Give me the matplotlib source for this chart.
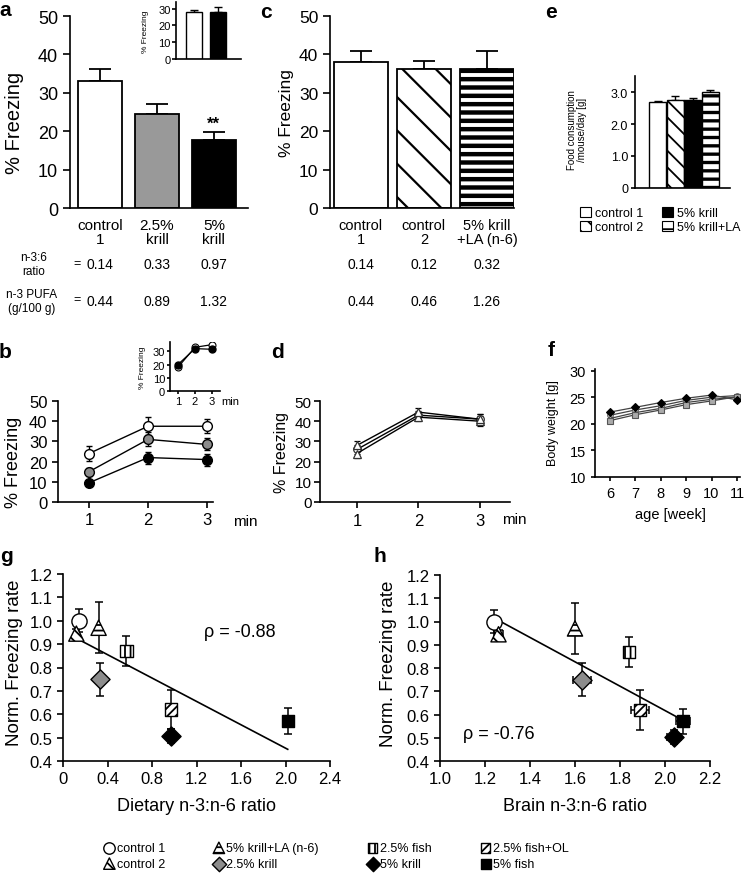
import numpy as np
import matplotlib.pyplot as plt
from matplotlib.patches import Patch
from matplotlib.transforms import blended_transform_factory

plt.rcParams['font.family'] = ['Liberation Sans', 'DejaVu Sans']
plt.rcParams['axes.linewidth'] = 1.2
plt.rcParams['hatch.linewidth'] = 1.3
plt.rcParams['xtick.major.width'] = 1.2
plt.rcParams['ytick.major.width'] = 1.2
plt.rcParams['xtick.direction'] = 'out'
plt.rcParams['ytick.direction'] = 'out'

# ---- data ----
# a: fear conditioning, krill diets
a_groups = ['control\n1', '2.5%\nkrill', '5%\nkrill']
a_mean = [33.0, 24.6, 17.6]
a_sem = [3.3, 2.4, 2.1]
a_ratio = ['0.14', '0.33', '0.97']
a_pufa = ['0.44', '0.89', '1.32']
a_inset_mean = [28.3, 28.3]
a_inset_sem = [1.2, 2.6]

# c: control diets
c_groups = ['control\n1', 'control\n2', '5% krill\n+LA (n-6)']
c_mean = [38.0, 36.3, 36.3]
c_sem = [3.0, 2.0, 4.6]
c_ratio = ['0.14', '0.12', '0.32']
c_pufa = ['0.44', '0.46', '1.26']

# e: food consumption
e_groups = ['control 1', 'control 2', '5% krill', '5% krill+LA']
e_mean = [2.70, 2.75, 2.75, 3.00]
e_sem = [0.03, 0.12, 0.06, 0.06]

# b: freezing per minute
minutes = [1, 2, 3]
b_ctrl1 = [24.0, 37.5, 37.5]
b_ctrl1_sem = [3.5, 4.5, 3.5]
b_krill25 = [15.0, 31.0, 28.5]
b_krill25_sem = [2.0, 3.5, 3.0]
b_krill5 = [9.5, 22.0, 21.0]
b_krill5_sem = [1.5, 3.0, 3.0]
b_inset_open = [18.0, 33.0, 35.0]
b_inset_black = [20.0, 32.0, 31.5]

# d: freezing per minute, control diets
d_ctrl1 = [26.0, 43.0, 41.0]
d_ctrl2 = [24.0, 42.0, 40.0]
d_krillLA = [28.0, 44.5, 41.0]
d_sem = [2.0, 2.0, 2.5]

# f: body weight
weeks = [6, 7, 8, 9, 10, 11]
f_krill5 = [22.2, 23.1, 24.0, 24.8, 25.4, 24.5]
f_ctrl1 = [21.6, 22.6, 23.4, 24.4, 25.0, 25.3]
f_ctrl2 = [21.0, 22.1, 22.9, 24.0, 24.6, 25.0]
f_krillLA = [20.6, 21.7, 22.6, 23.6, 24.3, 25.1]

# g/h: normalized freezing vs n-3:n-6 ratio
groups = ['control 1', 'control 2', '5% krill+LA (n-6)', '2.5% krill',
          '2.5% fish', '5% krill', '2.5% fish+OL', '5% fish']
norm_freeze = [1.00, 0.945, 0.97, 0.75, 0.87, 0.505, 0.62, 0.57]
norm_sem = [0.05, 0.02, 0.11, 0.07, 0.065, 0.03, 0.085, 0.055]
diet_ratio = [0.14, 0.12, 0.32, 0.33, 0.57, 0.97, 0.97, 2.02]
brain_ratio = [1.24, 1.26, 1.60, 1.63, 1.84, 2.04, 1.89, 2.08]
brain_sem = [0.0, 0.02, 0.0, 0.04, 0.0, 0.03, 0.04, 0.03]
g_fit = (-0.25, 0.955)   # slope, intercept
g_fit_range = [0.10, 2.02]
h_fit = (-0.524, 1.665)
h_fit_range = [1.25, 2.07]

# ---- styles ----
sty = {
    'control 1': dict(marker='o', c='white', hatch=None),
    'control 2': dict(marker='^', c='white', hatch='\\\\\\'),
    '5% krill+LA (n-6)': dict(marker='^', c='white', hatch='---'),
    '2.5% krill': dict(marker='D', c='#8c8c8c', hatch=None),
    '2.5% fish': dict(marker='s', c='white', hatch='|||'),
    '5% krill': dict(marker='D', c='black', hatch=None),
    '2.5% fish+OL': dict(marker='s', c='white', hatch='////'),
    '5% fish': dict(marker='s', c='black', hatch=None),
}

W, H = 746, 878
fig = plt.figure(figsize=(W / 100, H / 100), dpi=100)


def add_ax(l, t, r, b):
    ax = fig.add_axes([l / W, 1 - b / H, (r - l) / W, (b - t) / H])
    ax.spines['top'].set_visible(False)
    ax.spines['right'].set_visible(False)
    ax.patch.set_alpha(0)
    return ax


def fy(y):
    return 1 - y / H


def panel(letter, x, y):
    fig.text(x / W, fy(y), letter, fontsize=15, fontweight='bold', ha='center', va='center')


def hatched_bar(ax, x, h, w, fc, hatch, lw, hlw):
    bar = ax.bar(x, h, width=w, color=fc, edgecolor='black', hatch=hatch, linewidth=lw, zorder=2)
    for p in bar:
        if hasattr(p, 'set_hatch_linewidth'):
            p.set_hatch_linewidth(hlw)
    return bar


# ---- panel a ----
ax = add_ax(70, 17, 248, 209)
xa = np.arange(3)
ax.bar(xa, a_mean, width=0.78, color=['white', '#999999', 'black'], edgecolor='black', linewidth=1.3, zorder=2)
ax.errorbar(xa, a_mean, yerr=[np.zeros(3), a_sem], fmt='none', ecolor='black', elinewidth=1.3,
            capsize=8, capthick=1.3, zorder=1)
ax.text(2, a_mean[2] + a_sem[2] + 0.3, '**', ha='center', va='bottom', fontsize=12, fontweight='bold')
ax.set_xlim(-0.53, 2.6)
ax.set_ylim(0, 50)
ax.set_yticks(range(0, 51, 10))
ax.set_xticks(xa)
ax.set_xticklabels(a_groups, fontsize=11, linespacing=1.0)
ax.tick_params(axis='x', length=0, pad=7)
ax.tick_params(axis='y', labelsize=13, length=5)
ax.set_ylabel('% Freezing', fontsize=14.5, va='center')
ax.yaxis.set_label_coords(-0.31, 0.45)
tr = blended_transform_factory(ax.transData, fig.transFigure)
for i in range(3):
    ax.text(xa[i], fy(265), a_ratio[i], transform=tr, ha='center', va='center', fontsize=10)
    ax.text(xa[i], fy(302), a_pufa[i], transform=tr, ha='center', va='center', fontsize=10)
fig.text(34 / W, fy(265), 'n-3:6\nratio', ha='center', va='center', fontsize=8.5, linespacing=1.15)
fig.text(32 / W, fy(302), 'n-3 PUFA\n(g/100 g)', ha='center', va='center', fontsize=8.5, linespacing=1.15)
fig.text(77 / W, fy(264), '=', ha='center', va='center', fontsize=9)
fig.text(77 / W, fy(300), '=', ha='center', va='center', fontsize=9)
panel('a', 5, 11)

# inset a
ax = add_ax(176, 3, 241, 60)
ax.bar([0, 1], a_inset_mean, width=0.68, color=['white', 'black'], edgecolor='black', linewidth=1.0, zorder=2)
ax.errorbar([0, 1], a_inset_mean, yerr=[[0, 0], a_inset_sem], fmt='none', ecolor='black',
            elinewidth=1.0, capsize=3, capthick=1.0, zorder=1)
ax.set_xlim(-0.77, 2.0)
ax.set_ylim(0, 34)
ax.set_yticks([0, 10, 20, 30])
ax.set_xticks([])
ax.tick_params(axis='y', labelsize=8, length=3, pad=1)
ax.set_ylabel('% Freezing', fontsize=6, va='center')
ax.yaxis.set_label_coords(-0.47, 0.5)

# ---- panel c ----
ax = add_ax(330, 17, 514, 209)
xc = np.arange(3)
hatches_c = [None, '\\', '--']
hlw_c = [1.3, 1.6, 3.2]
for i in range(3):
    hatched_bar(ax, xc[i], c_mean[i], 0.86, 'white', hatches_c[i], 1.3, hlw_c[i])
ax.errorbar(xc, c_mean, yerr=[np.zeros(3), c_sem], fmt='none', ecolor='black', elinewidth=1.3,
            capsize=8, capthick=1.3, zorder=1)
ax.set_xlim(-0.49, 2.43)
ax.set_ylim(0, 50)
ax.set_yticks(range(0, 51, 10))
ax.set_xticks(xc)
ax.set_xticklabels(c_groups, fontsize=10.5, linespacing=1.0)
ax.tick_params(axis='x', length=0, pad=7)
ax.tick_params(axis='y', labelsize=12.5, length=5)
ax.set_ylabel('% Freezing', fontsize=12.5, va='center')
ax.yaxis.set_label_coords(-0.234, 0.5)
tr = blended_transform_factory(ax.transData, fig.transFigure)
for i in range(3):
    ax.text(xc[i], fy(265), c_ratio[i], transform=tr, ha='center', va='center', fontsize=10)
    ax.text(xc[i], fy(302), c_pufa[i], transform=tr, ha='center', va='center', fontsize=10)
panel('c', 266, 13)

# ---- panel e ----
ax = add_ax(635, 77, 730, 189)
xe = np.arange(4)
e_colors = ['white', 'white', 'black', 'white']
e_hatch = [None, '\\\\', None, '--']
e_hlw = [1.0, 1.3, 1.0, 2.4]
for i in range(4):
    hatched_bar(ax, xe[i], e_mean[i], 0.97, e_colors[i], e_hatch[i], 1.0, e_hlw[i])
ax.errorbar(xe, e_mean, yerr=[np.zeros(4), e_sem], fmt='none', ecolor='black', elinewidth=1.0,
            capsize=3, capthick=1.0, zorder=1)
ax.set_xlim(-1.29, 4.11)
ax.set_ylim(0, 3.5)
ax.set_yticks([0, 1, 2, 3])
ax.set_yticklabels(['0', '1.0', '2.0', '3.0'])
ax.set_xticks([])
ax.tick_params(axis='y', labelsize=9, length=3, pad=2)
ax.set_ylabel('Food consumption\n/mouse/day [g]', fontsize=7, linespacing=1.1, va='center')
ax.yaxis.set_label_coords(-0.61, 0.53)
e_handles = [Patch(facecolor=e_colors[i], edgecolor='black', hatch=e_hatch[i], linewidth=0.8)
             for i in range(4)]
fig.legend(e_handles, e_groups, ncol=2, loc='center', bbox_to_anchor=(660 / W, fy(221)),
           frameon=False, fontsize=9, handlelength=0.9, handleheight=0.9, handletextpad=0.3,
           columnspacing=1.5, labelspacing=0.15, borderpad=0)
panel('e', 551, 12)

# ---- panel b ----
ax = add_ax(58, 402, 213, 503)
for vals, err, fc in [(b_ctrl1, b_ctrl1_sem, 'white'), (b_krill25, b_krill25_sem, '#8c8c8c'),
                      (b_krill5, b_krill5_sem, 'black')]:
    ax.errorbar(minutes, vals, yerr=err, color='black', lw=1.0, elinewidth=1.0, capsize=2.5,
                marker='o', ms=7, mfc=fc, mec='black', mew=1.0)
ax.set_xlim(0.475, 3.1)
ax.set_ylim(0, 50)
ax.set_xticks(minutes)
ax.set_yticks(range(0, 51, 10))
ax.tick_params(labelsize=12, length=4)
ax.set_ylabel('% Freezing', fontsize=13, va='center')
ax.yaxis.set_label_coords(-0.29, 0.40)
fig.text(245 / W, fy(522), 'min', ha='center', va='center', fontsize=11)
panel('b', 5, 352)

# inset b
ax = add_ax(170, 343, 220, 392)
ax.plot(minutes, b_inset_open, color='black', lw=0.9, marker='o', ms=5, mfc='white', mec='black', mew=0.8)
ax.plot(minutes, b_inset_black, color='black', lw=0.9, marker='o', ms=5, mfc='black', mec='black')
ax.set_xlim(0.53, 3.47)
ax.set_ylim(0, 37)
ax.set_xticks(minutes)
ax.set_yticks([0, 10, 20, 30])
ax.tick_params(labelsize=8, length=2.5, pad=1)
ax.set_ylabel('% Freezing', fontsize=6, va='center')
ax.yaxis.set_label_coords(-0.55, 0.5)
fig.text(230 / W, fy(402), 'min', ha='center', va='center', fontsize=8)

# ---- panel d ----
ax = add_ax(320, 402, 510, 503)
for vals, mk in [(d_ctrl1, 'o'), (d_ctrl2, '^'), (d_krillLA, '^')]:
    ax.errorbar(minutes, vals, yerr=d_sem, color='black', lw=1.0, elinewidth=0.9, capsize=2,
                marker=mk, ms=5.5, mfc='white', mec='#333333', mew=0.9)
ax.set_xlim(0.4, 3.49)
ax.set_ylim(0, 50)
ax.set_xticks(minutes)
ax.set_yticks(range(0, 51, 10))
ax.tick_params(labelsize=11, length=4, pad=2)
ax.tick_params(axis='x', labelsize=12, pad=4)
ax.set_ylabel('% Freezing', fontsize=11.5, va='center')
ax.yaxis.set_label_coords(-0.205, 0.5)
fig.text(514 / W, fy(520), 'min', ha='center', va='center', fontsize=11)
panel('d', 278, 353)

# ---- panel f ----
ax = add_ax(595, 370, 740, 478)
for vals, mk, fc, ec in [(f_ctrl1, 'o', 'white', '#555555'), (f_ctrl2, '^', '#cccccc', '#555555'),
                         (f_krillLA, 's', '#aaaaaa', '#555555'), (f_krill5, 'D', 'black', 'black')]:
    ax.plot(weeks, vals, color='#444444', lw=0.9, marker=mk, ms=4, mfc=fc, mec=ec, mew=0.8)
ax.set_xlim(5.41, 11.12)
ax.set_ylim(10, 30.3)
ax.set_xticks(weeks)
ax.set_yticks([10, 15, 20, 25, 30])
ax.tick_params(labelsize=10.5, length=3)
ax.set_ylabel('Body weight [g]', fontsize=9, va='center')
ax.yaxis.set_label_coords(-0.29, 0.51)
ax.set_xlabel('age [week]', fontsize=10.5, va='center')
ax.xaxis.set_label_coords(0.52, -0.34)
panel('f', 551, 351)


# ---- panels g, h ----
def scatter_panel(ax, xs, xerr, fit, fit_range):
    fx = np.array(fit_range)
    ax.plot(fx, fit[0] * fx + fit[1], color='black', lw=1.2, zorder=1)
    handles = []
    for i, g in enumerate(groups):
        s = sty[g]
        ax.errorbar(xs[i], norm_freeze[i], yerr=norm_sem[i], xerr=xerr[i] if xerr else None,
                    fmt='none', ecolor='black', elinewidth=1.1, capsize=3, capthick=1.1, zorder=2)
        size = 80 if s['marker'] == 's' else (95 if s['marker'] == 'D' else 120)
        h = ax.scatter(xs[i], norm_freeze[i], s=size, marker=s['marker'], c=s['c'],
                       edgecolors='black', linewidths=1.0, hatch=s['hatch'], zorder=3)
        handles.append(h)
    ax.set_ylim(0.4, 1.2)
    ax.set_yticks(np.arange(0.4, 1.21, 0.1))
    ax.set_yticklabels(['%.1f' % v for v in np.arange(0.4, 1.21, 0.1)])
    ax.tick_params(labelsize=12, length=4)
    ax.set_ylabel('Norm. Freezing rate', fontsize=13.5, va='center')
    return handles


ax = add_ax(63, 575, 330, 762)
handles = scatter_panel(ax, diet_ratio, None, g_fit, g_fit_range)
ax.set_xlim(0, 2.4)
ax.set_xticks(np.arange(0, 2.41, 0.4))
ax.set_xticklabels(['0', '0.4', '0.8', '1.2', '1.6', '2.0', '2.4'])
ax.set_xlabel('Dietary n-3:n-6 ratio', fontsize=13, va='center')
ax.xaxis.set_label_coords(0.5, -0.24)
ax.yaxis.set_label_coords(-0.18, 0.53)
ax.text(1.59, 0.956, 'ρ = -0.88', ha='center', va='center', fontsize=13)
panel('g', 7, 557)

ax = add_ax(440, 576, 710, 762)
scatter_panel(ax, brain_ratio, brain_sem, h_fit, h_fit_range)
ax.set_xlim(1.0, 2.2)
ax.set_xticks(np.arange(1.0, 2.21, 0.2))
ax.set_xticklabels(['%.1f' % v for v in np.arange(1.0, 2.21, 0.2)])
ax.set_xlabel('Brain n-3:n-6 ratio', fontsize=13, va='center')
ax.xaxis.set_label_coords(0.5, -0.24)
ax.yaxis.set_label_coords(-0.19, 0.53)
ax.text(1.26, 0.52, 'ρ = -0.76', ha='center', va='center', fontsize=13)
panel('h', 380, 556)

fig.legend(handles, groups, ncol=4, loc='center', bbox_to_anchor=(336 / W, fy(857)),
           frameon=False, fontsize=9, markerscale=0.75, handletextpad=0.1, columnspacing=3.8,
           labelspacing=0.3, scatterpoints=1, borderpad=0, handlelength=1.0)

fig.savefig('out.png', dpi=100)
